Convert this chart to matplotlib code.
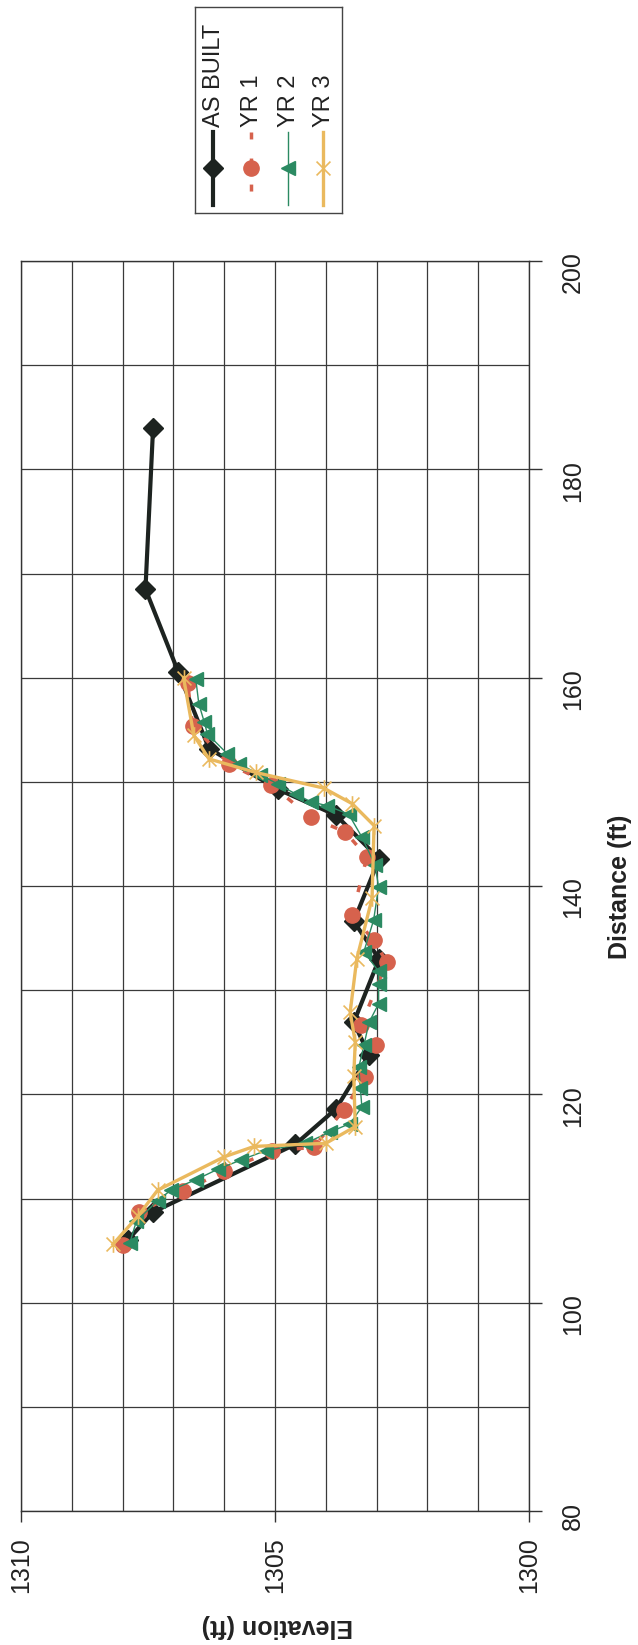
import numpy as np
import matplotlib.pyplot as plt
from matplotlib.path import Path

plt.rcParams['font.family'] = ['Liberation Sans', 'DejaVu Sans']

# =========================
# data (distance ft, elevation ft)
# =========================
as_built_dist = [106.0, 108.7, 115.2, 118.6, 123.8, 126.9, 133.0, 136.6, 142.6,
                 146.8, 149.3, 153.2, 160.5, 168.5, 184.0]
as_built_elev = [1307.9, 1307.4, 1304.6, 1303.8, 1303.15, 1303.45, 1302.95, 1303.45,
                 1302.95, 1303.8, 1304.95, 1306.3, 1306.9, 1307.55, 1307.4]

yr1_dist = [105.5, 108.7, 110.7, 112.6, 114.6, 114.9, 118.5, 121.7, 124.7, 126.7,
            132.7, 134.8, 137.2, 142.8, 145.2, 146.6, 149.7, 151.7, 155.4, 159.5]
yr1_elev = [1308.0, 1307.67, 1306.82, 1306.0, 1305.05, 1304.24, 1303.65, 1303.22,
            1303.02, 1303.3, 1302.8, 1303.06, 1303.48, 1303.19, 1303.62, 1304.3,
            1305.07, 1305.9, 1306.62, 1306.72]

yr2_dist = [105.7, 107.8, 109.8, 110.8, 111.8, 112.8, 113.7, 114.6, 115.3, 116.4,
            117.2, 118.8, 120.6, 122.6, 124.7, 126.9, 128.7, 130.6, 131.8, 133.7,
            136.7, 139.9, 142.0, 144.7, 146.9, 147.7, 148.1, 148.8, 149.8, 150.7,
            151.7, 152.7, 154.6, 155.7, 157.5, 159.9]
yr2_elev = [1307.86, 1307.73, 1307.31, 1307.05, 1306.56, 1306.13, 1305.67, 1305.18,
            1304.4, 1303.91, 1303.52, 1303.29, 1303.32, 1303.35, 1303.25, 1303.15,
            1302.96, 1302.96, 1302.96, 1303.25, 1303.06, 1302.96, 1303.03, 1303.29,
            1303.55, 1303.97, 1304.3, 1304.58, 1304.95, 1305.3, 1305.7, 1305.94,
            1306.33, 1306.39, 1306.5, 1306.56]

yr3_dist = [105.6, 108.3, 110.8, 114.0, 115.0, 115.3, 116.9, 121.8, 125.0, 127.9,
            133.0, 138.8, 145.8, 147.9, 149.4, 150.9, 152.2, 154.5, 160.0]
yr3_elev = [1308.19, 1307.7, 1307.31, 1306.0, 1305.41, 1304.0, 1303.42, 1303.45,
            1303.42, 1303.52, 1303.39, 1303.09, 1303.05, 1303.48, 1304.04, 1305.38,
            1306.3, 1306.6, 1306.8]

series_names = ["AS BUILT", "YR 1", "YR 2", "YR 3"]
elev_ticks = [1310, 1305, 1300]
dist_ticks = [80, 100, 120, 140, 160, 180, 200]

# excel style star: an x with a bar (chart is turned a quarter)
star = Path([(-1, -1), (1, 1), (-1, 1), (1, -1), (0, -1.2), (0, 1.2)],
            [Path.MOVETO, Path.LINETO] * 3)

styles = [
    dict(color='#1d2320', lw=3.0, ls='-', marker='D', ms=10),
    dict(color='#d6624d', lw=2.5, ls=(0, (2, 5.5)), marker='o', ms=11),
    dict(color='#2b8a62', lw=1.0, ls='-', marker='<', ms=10),
    dict(color='#eab95e', lw=2.4, ls='-', marker=star, ms=12, mew=1.2),
]
data = [(as_built_elev, as_built_dist), (yr1_elev, yr1_dist),
        (yr2_elev, yr2_dist), (yr3_elev, yr3_dist)]

W, H = 638, 1645
fig = plt.figure(figsize=(W / 100, H / 100), dpi=100)

# plot box in pixels: left 21, right 529, top 261, bottom 1511
ax = fig.add_axes([21 / W, 1 - 1511 / H, 508 / W, 1250 / H])

for (ex, dy), st in zip(data, styles):
    ax.plot(ex, dy, color=st['color'], lw=st['lw'], ls=st['ls'],
            marker=st['marker'], ms=st['ms'], mfc=st['color'], mec=st['color'],
            mew=st.get('mew', 1.0), zorder=3)

ax.set_xlim(1310, 1300)
ax.set_ylim(80, 200)
ax.set_xticks(elev_ticks)
ax.set_xticks(np.arange(1300, 1311, 1), minor=True)
ax.set_yticks(dist_ticks)
ax.set_yticks(np.arange(80, 201, 10), minor=True)
ax.yaxis.tick_right()

ax.tick_params(axis='x', which='major', direction='out', length=8, width=1,
               color='#333333', pad=11, labelsize=18, labelrotation=90,
               labelcolor='#222222')
ax.tick_params(axis='y', which='major', direction='out', length=9, width=1,
               color='#333333', pad=14, labelsize=18, labelrotation=90,
               labelcolor='#222222')
ax.tick_params(which='minor', length=0)

ax.grid(which='both', color='#3a3a3a', lw=0.9)
ax.set_axisbelow(True)
for sp in ax.spines.values():
    sp.set_color('#333333')
    sp.set_linewidth(1.0)

fig.text(620 / W, 1 - 887 / H, "Distance (ft)", rotation=90, ha='center',
         va='center', fontsize=18, fontweight='bold', color='#222222')
fig.text(277 / W, 1 - 1626 / H, "Elevation (ft)", rotation=180, ha='center',
         va='center', fontsize=18, fontweight='bold', color='#222222')

# =========================
# legend (drawn turned, like the rest)
# =========================
lax = fig.add_axes([195 / W, 1 - 213 / H, 147 / W, 206 / H])
lax.set_xlim(195, 342)
lax.set_ylim(213, 7)
lax.set_xticks([])
lax.set_yticks([])
for sp in lax.spines.values():
    sp.set_color('#444444')
    sp.set_linewidth(1.0)

key_x = [213, 251, 288, 323]
for x, name, st in zip(key_x, series_names, styles):
    lax.plot([x, x], [132, 205], color=st['color'], lw=st['lw'], ls=st['ls'])
    lax.plot([x], [168], ls='none', marker=st['marker'], ms=st['ms'],
             mfc=st['color'], mec=st['color'], mew=st.get('mew', 1.0))
    lax.text(x + 1, 127, name, rotation=90, ha='center', va='bottom',
             fontsize=17, color='#222222')

fig.savefig("out.png", dpi=100, facecolor='white')
